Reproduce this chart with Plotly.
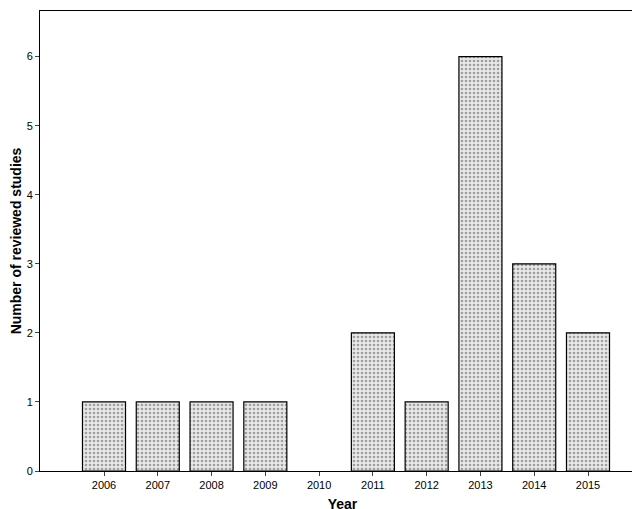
import plotly.graph_objects as go

years = ["2006","2007","2008","2009","2010","2011","2012","2013","2014","2015"]
counts = [1,1,1,1,0,2,1,6,3,2]
yticks = [0,1,2,3,4,5,6]

xs = list(range(len(years)))
line_widths = [1.2 if c > 0 else 0 for c in counts]
fig = go.Figure(go.Bar(
    x=xs, y=counts, width=0.8,
    marker=dict(color="#e8e8e8", line=dict(color="#000", width=line_widths),
                pattern=dict(shape=".", fgcolor="#555", bgcolor="#e8e8e8", size=4, solidity=0.35)),
))
fig.update_layout(
    width=640, height=509, margin=dict(l=32, r=3, t=3, b=46),
    plot_bgcolor="white", paper_bgcolor="white", showlegend=False,
    font=dict(family="Arial, Liberation Sans", size=11, color="#000"),
)
fig.update_xaxes(range=[-1.19, 10.06], tickvals=xs, ticktext=years, showgrid=False, automargin=False,
                 showline=True, linecolor="#000", mirror=True, ticks="outside", ticklen=4,
                 title=dict(text="<b>Year</b>", font=dict(size=14), standoff=8))
fig.update_yaxes(range=[0, 6.66], tickvals=yticks, showgrid=False, zeroline=False, automargin=False,
                 showline=True, linecolor="#000", mirror=True, ticks="outside", ticklen=4,
                 title=dict(text="<b>Number of reviewed studies</b>", font=dict(size=14), standoff=4))
fig.write_html("out.html")
